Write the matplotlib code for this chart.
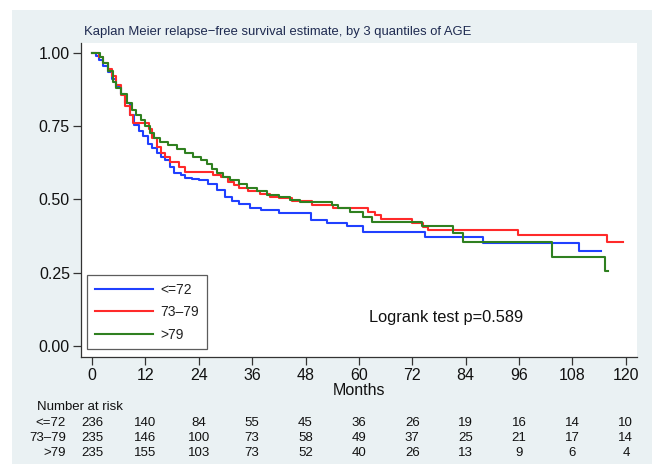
import matplotlib
matplotlib.use("Agg")
import matplotlib.pyplot as plt
from matplotlib.patches import Rectangle

plt.rcParams['font.family'] = ['Liberation Sans', 'DejaVu Sans']

# ---- data ----
groups = ["<=72", "73\u201379", ">79"]

t_le72 = [0, 0.8, 1.5, 2.5, 3.5, 4.5, 5.5, 6.5, 7.5, 8.5, 9.5, 10.5, 11.5, 12.5, 13.5, 14.5,
          15.5, 16.5, 17.5, 18.5, 20, 21, 22.5, 24, 26, 28, 30, 31.5, 33, 35.5, 38, 42,
          49.3, 52.8, 57.3, 61, 74.8, 87.9, 109.4, 114.5]
s_le72 = [1.0, 0.99, 0.975, 0.955, 0.935, 0.91, 0.885, 0.86, 0.83, 0.79, 0.755, 0.735, 0.715,
          0.69, 0.675, 0.66, 0.645, 0.635, 0.61, 0.59, 0.584, 0.575, 0.57, 0.565, 0.552, 0.532,
          0.51, 0.495, 0.485, 0.472, 0.463, 0.454, 0.43, 0.42, 0.41, 0.389, 0.372, 0.353,
          0.324, 0.324]

t_7379 = [0, 1.5, 2.5, 3.5, 4.5, 5.5, 6.5, 7.5, 8.5, 9.2, 12.8, 13.5, 14.5, 15.5, 16.5, 17.5,
          19.5, 21, 27.2, 29, 30.5, 32, 33, 35, 37.8, 40, 42, 45, 49.4, 54.2, 62, 63.5, 65,
          72, 74.5, 75.5, 95.7, 115.7, 119.3]
s_7379 = [1.0, 0.985, 0.965, 0.945, 0.92, 0.89, 0.855, 0.82, 0.79, 0.76, 0.74, 0.71, 0.68,
          0.66, 0.645, 0.628, 0.61, 0.594, 0.584, 0.577, 0.56, 0.55, 0.54, 0.53, 0.52, 0.51,
          0.505, 0.495, 0.481, 0.471, 0.457, 0.447, 0.433, 0.42, 0.405, 0.396, 0.379, 0.355,
          0.355]

t_gt79 = [0, 1.8, 2.5, 3.5, 4.7, 5.5, 6.5, 7.8, 9, 10, 11, 12, 13, 14, 15.3, 17, 19, 21,
          22.7, 24.5, 25.8, 27, 28, 29.5, 31, 33, 34.8, 37, 39.3, 42, 44.5, 46.7, 53.9, 55.3,
          58, 61, 62.9, 74.2, 81.1, 83.4, 103.4, 115.3, 116]
s_gt79 = [1.0, 0.985, 0.965, 0.94, 0.9, 0.88, 0.86, 0.83, 0.805, 0.788, 0.77, 0.75, 0.727,
          0.71, 0.696, 0.685, 0.672, 0.66, 0.645, 0.635, 0.62, 0.605, 0.59, 0.577, 0.567,
          0.553, 0.539, 0.528, 0.517, 0.508, 0.498, 0.492, 0.481, 0.471, 0.457, 0.44, 0.423,
          0.41, 0.386, 0.355, 0.304, 0.256, 0.256]

xticks = [0, 12, 24, 36, 48, 60, 72, 84, 96, 108, 120]
yticks = [0.0, 0.25, 0.5, 0.75, 1.0]

risk_le72 = [236, 140, 84, 55, 45, 36, 26, 19, 16, 14, 10]
risk_7379 = [235, 146, 100, 73, 58, 49, 37, 25, 21, 17, 14]
risk_gt79 = [235, 155, 103, 73, 52, 40, 26, 13, 9, 6, 4]

colors = ["#2040ff", "#ff2a2a", "#2f8020"]

# ---- figure ----
W, H = 652, 467
fig = plt.figure(figsize=(W / 100, H / 100), dpi=100, facecolor="white")
fig.patches.append(Rectangle((12 / W, 3 / H), 1 - 12 / W, (H - 13) / H,
                             transform=fig.transFigure, facecolor="#eaf1f3",
                             edgecolor="none", zorder=-10))

ax = fig.add_axes([81 / W, 1 - 357 / H, (637 - 81) / W, (357 - 43) / H])
ax.set_facecolor("white")

series = [(t_le72, s_le72), (t_7379, s_7379), (t_gt79, s_gt79)]
for (t, s), c, lab in zip(series, colors, groups):
    ax.step(t, s, where="post", color=c, lw=1.5, label=lab)

ax.set_xlim(-2.47, 122.5)
ax.set_ylim(-0.0375, 1.034)
ax.set_xticks(xticks)
ax.set_yticks(yticks)
ax.set_yticklabels([f"{v:.2f}" for v in yticks])
for sp in ["top", "right"]:
    ax.spines[sp].set_visible(False)
for sp in ["left", "bottom"]:
    ax.spines[sp].set_color("#333333")
    ax.spines[sp].set_linewidth(0.9)
ax.tick_params(direction="out", length=6, width=0.9, color="#333333",
               labelsize=11.5, labelcolor="#111111", pad=2)
ax.set_xlabel("Months", fontsize=11.5, color="#111111", labelpad=0)

fig.text(84 / W, 1 - 32 / H, "Kaplan Meier relapse\u2212free survival estimate, by 3 quantiles of AGE",
         fontsize=9.4, color="#1e2a50", ha="left", va="center")

ax.text(0.518, 0.127, "Logrank test p=0.589", transform=ax.transAxes,
        fontsize=11.8, color="#111111", ha="left", va="center")

leg = ax.legend(loc="lower left", bbox_to_anchor=(0.011, 0.025), borderaxespad=0,
                fontsize=10, handlelength=4.2, handletextpad=0.55, labelspacing=0.6,
                borderpad=0.55, fancybox=False, frameon=True)
leg.get_frame().set_edgecolor("#333333")
leg.get_frame().set_linewidth(0.9)
for txt in leg.get_texts():
    txt.set_color("#222222")

# ---- number at risk table ----
fs_tab = 9.5
fig.text(37 / W, 1 - 407 / H, "Number at risk", fontsize=fs_tab, color="#111111",
         ha="left", va="center")
row_y = [423, 438, 453]
for lab, risk, yp in zip(groups, [risk_le72, risk_7379, risk_gt79], row_y):
    fig.text(66 / W, 1 - yp / H, lab, fontsize=fs_tab, color="#111111", ha="right", va="center")
    for xt, n in zip(xticks, risk):
        ax.annotate(str(n), xy=(xt, 1 - yp / H), xycoords=("data", "figure fraction"),
                    fontsize=fs_tab, color="#111111", ha="center", va="center",
                    annotation_clip=False)

fig.savefig("out.png", dpi=100, facecolor=fig.get_facecolor())
